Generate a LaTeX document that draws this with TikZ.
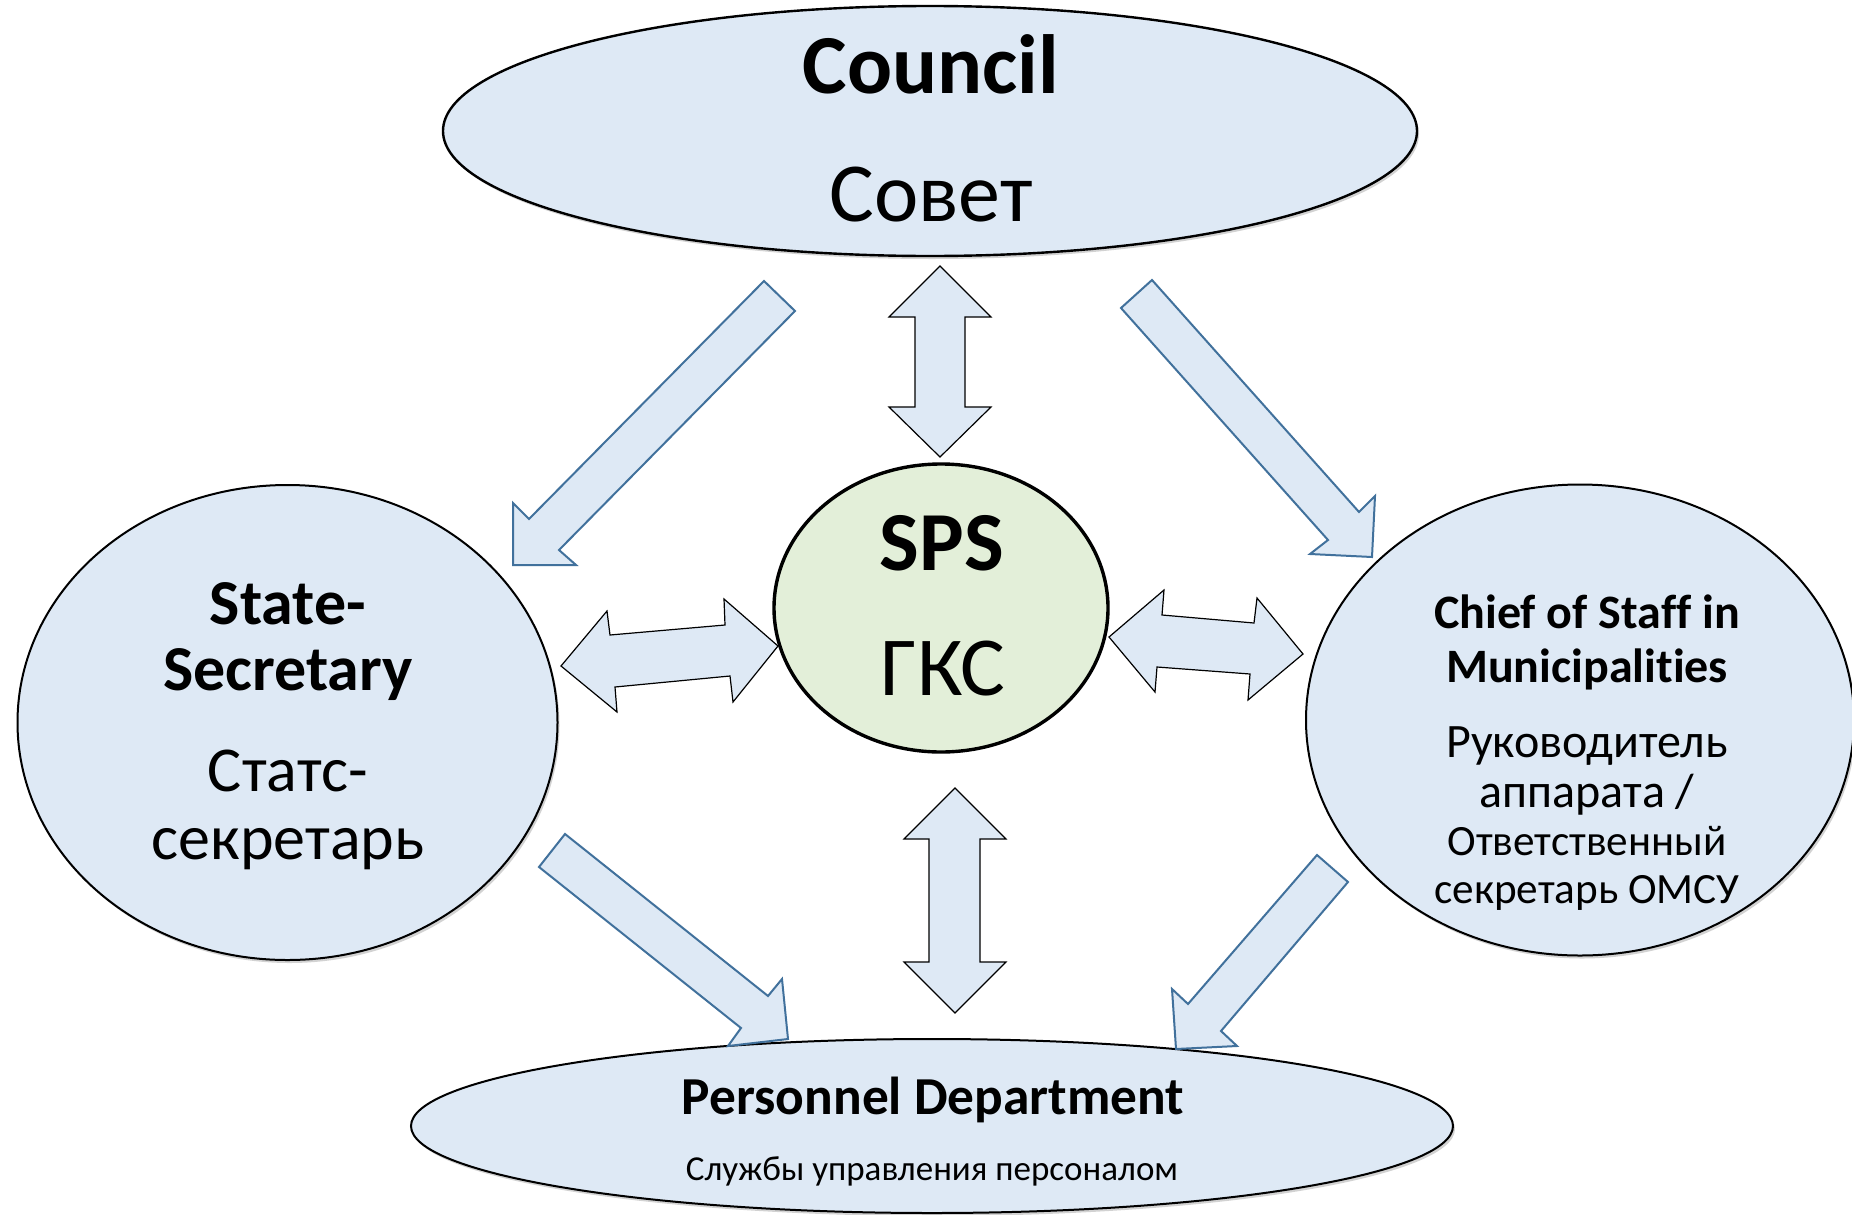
\documentclass[tikz,border=0pt]{standalone}
\usepackage{fontspec}
\setmainfont{Carlito}[Ligatures=NoCommon]
\usetikzlibrary{shapes.geometric,shadows}
\definecolor{fillblue}{HTML}{DEE9F5}
\definecolor{fillgreen}{HTML}{E3EFD9}
\definecolor{arrowblue}{HTML}{41719C}
\begin{document}
\begin{tikzpicture}[x=0.5pt,y=-0.5pt,
  oval/.style={ellipse, draw=black, fill=fillblue, inner sep=0pt, line width=1pt,
     drop shadow={shadow xshift=1pt, shadow yshift=-1.5pt, opacity=0.35}},
  txt/.style={anchor=base, inner sep=0pt, align=center},
  big/.style={font=\fontsize{42}{50}\selectfont},
  bigb/.style={font=\bfseries\fontsize{42}{50}\selectfont},
  mid/.style={font=\fontsize{32}{38}\selectfont},
  midb/.style={font=\bfseries\fontsize{32}{38}\selectfont},
  sm/.style={font=\fontsize{24}{29}\selectfont},
  smr/.style={font=\fontsize{21.6}{26}\selectfont},
  smb/.style={font=\bfseries\fontsize{24}{29}\selectfont},
  blockarrow/.style={draw=arrowblue, fill=fillblue, line width=1pt, line join=miter},
  dblarrow/.style={draw=black, fill=fillblue, line width=0.6pt, line join=miter}]
\useasboundingbox (0,0) rectangle (1852,1215);
\fill[white] (0,0) rectangle (1852,1215);

% ellipses
\node[oval, minimum width=487pt, minimum height=125pt, line width=1.2pt] (council) at (930,131) {};
\node[oval, minimum width=270pt, minimum height=237.5pt] (state) at (287.5,722.5) {};
\node[ellipse, draw=black, fill=fillgreen, inner sep=0pt, minimum width=167pt, minimum height=144pt, line width=1.7pt] (sps) at (941,608) {};
\node[oval, minimum width=274pt, minimum height=235.5pt] (chief) at (1580,720) {};
\node[oval, minimum width=521pt, minimum height=87pt] (personnel) at (932,1126) {};

% texts
\node[txt, bigb] (councilEn) at (931,93) {Council};
\node[txt, big] (councilRu) at (931,221) {Совет};
\node[txt, bigb] (spsEn) at (942,570) {SPS};
\node[txt, big] (spsRu) at (943,695) {ГКС};
\node[txt, midb] (stateEnA) at (288,624) {State-};
\node[txt, midb] (stateEnB) at (288,690) {Secretary};
\node[txt, mid] (stateRuA) at (288,791) {Статс-};
\node[txt, mid] (stateRuB) at (288,859) {секретарь};
\node[txt, smb] (chiefEnA) at (1587,628) {Chief of Staff in};
\node[txt, smb] (chiefEnB) at (1587,682) {Municipalities};
\node[txt, sm] (chiefRuA) at (1587,757) {Руководитель};
\node[txt, sm] (chiefRuB) at (1587,807) {аппарата /};
\node[txt, smr] (chiefRuC) at (1587,855) {Ответственный};
\node[txt, smr] (chiefRuD) at (1587,903) {секретарь ОМСУ};
\node[txt, font=\bfseries\fontsize{26.7}{32}\selectfont] (persEn) at (933,1114) {Personnel Department};
\node[txt, font=\fontsize{17.5}{21}\selectfont] (persRu) at (932,1180) {Службы управления персоналом};

% diagonal block arrows
\draw[blockarrow] (764,281) -- (795,311) -- (559,550) -- (576,565) -- (513,565) -- (513,503) -- (529,519) -- cycle;
\draw[blockarrow] (1152,280) -- (1359,512) -- (1375,496) -- (1372,557) -- (1310,554) -- (1328,540) -- (1121,308) -- cycle;
\draw[blockarrow] (565,834) -- (768,996) -- (782,979) -- (788,1039) -- (728,1046) -- (741,1028) -- (539,867) -- cycle;
\draw[blockarrow] (1348,882) -- (1221,1031) -- (1237,1046) -- (1176,1049) -- (1172,989) -- (1188,1004) -- (1317,855) -- cycle;

% double arrows
\draw[dblarrow] (940,266) -- (991,317) -- (965,317) -- (965,407) -- (991,407) -- (940,457) -- (889,407) -- (915,407) -- (915,317) -- (889,317) -- cycle;
\draw[dblarrow] (955,788) -- (1006,839) -- (980,839) -- (980,962) -- (1006,962) -- (955,1013) -- (904,962) -- (929,962) -- (929,839) -- (904,839) -- cycle;
\draw[dblarrow] (561,666) -- (607,611) -- (610,635) -- (725,625) -- (724,599) -- (778,646) -- (733,702) -- (730,676) -- (615,687) -- (617,712) -- cycle;
\draw[dblarrow] (1109,637) -- (1164,590) -- (1162,615) -- (1254,623) -- (1257,598) -- (1303,654) -- (1248,700) -- (1250,674) -- (1157,667) -- (1155,692) -- cycle;
\end{tikzpicture}
\end{document}
